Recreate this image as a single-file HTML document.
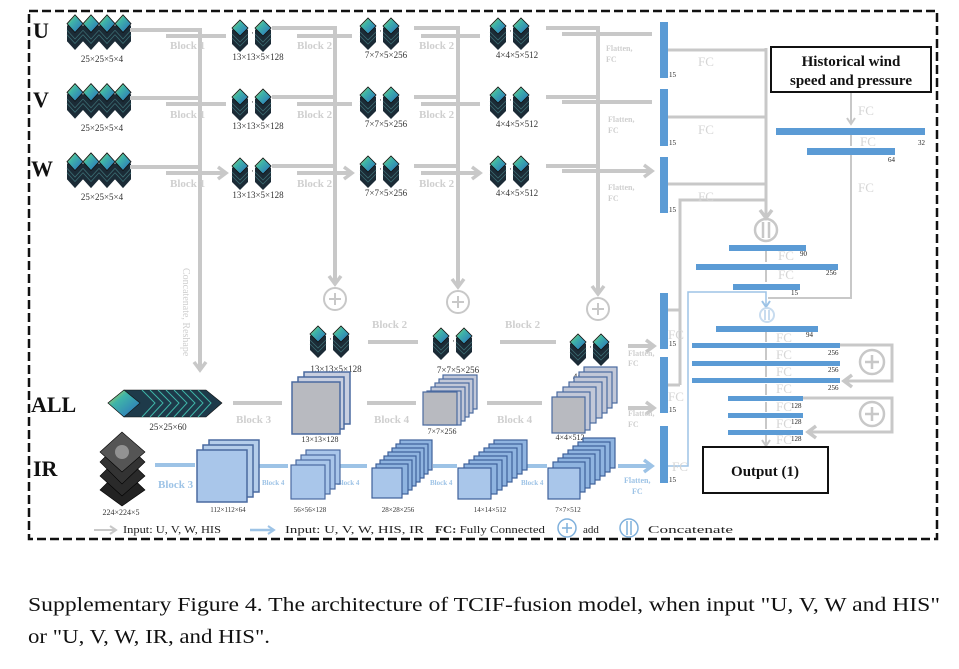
<!DOCTYPE html>
<html><head><meta charset="utf-8"><style>
html,body{margin:0;padding:0;background:#fff;}
svg{display:block;font-family:"Liberation Serif",serif;}
</style></head><body>
<svg width="959" height="669" viewBox="0 0 959 669" xmlns="http://www.w3.org/2000/svg">
<defs>
<marker id="ag" markerWidth="14" markerHeight="16" refX="10" refY="8" orient="auto" markerUnits="userSpaceOnUse"><path d="M2,2 L10,8 L2,14" fill="none" stroke="#c8c8c8" stroke-width="3.5"/></marker>
<marker id="ags" markerWidth="12" markerHeight="12" refX="8" refY="6" orient="auto" markerUnits="userSpaceOnUse"><path d="M2,2 L8,6 L2,10" fill="none" stroke="#c8c8c8" stroke-width="2"/></marker>
<marker id="ab" markerWidth="14" markerHeight="16" refX="10" refY="8" orient="auto" markerUnits="userSpaceOnUse"><path d="M2,2 L10,8 L2,14" fill="none" stroke="#9dc3e6" stroke-width="3.5"/></marker>
<marker id="abt" markerWidth="12" markerHeight="12" refX="8" refY="6" orient="auto" markerUnits="userSpaceOnUse"><path d="M2,2 L8,6 L2,10" fill="none" stroke="#9dc3e6" stroke-width="2"/></marker>
<marker id="agt" markerWidth="18" markerHeight="18" refX="9" refY="12" orient="auto-start-reverse" markerUnits="userSpaceOnUse" viewBox="0 0 18 18"><path d="M2,4 L9,12 L16,4" fill="none" stroke="#c8c8c8" stroke-width="3.5" transform="rotate(-90 9 12)"/></marker>
<linearGradient id="tg" x1="0" y1="0" x2="1" y2="1"><stop offset="0" stop-color="#e8d23a"/><stop offset="0.35" stop-color="#3fb5a8"/><stop offset="1" stop-color="#2a6cc0"/></linearGradient>
<g id="cube">
<polygon points="0,10 8,2 16,10 16,24 8,32 0,24" fill="#1b2b36"/>
<polyline points="0,14 8,22 16,14" fill="none" stroke="#3a6a70" stroke-width="0.8"/>
<polyline points="0,18 8,26 16,18" fill="none" stroke="#3a6a70" stroke-width="0.8"/>
<polygon points="0,8 8,0 16,8 8,16" fill="url(#tg)" stroke="#111" stroke-width="0.8"/>
</g>
<g id="pair"><use href="#cube"/><text x="19" y="16" font-size="9" fill="#333">···</text><use href="#cube" x="23"/></g>
<g id="inp"><use href="#cube"/><use href="#cube" x="16"/><use href="#cube" x="32"/><use href="#cube" x="48"/></g>
</defs>

<rect x="29" y="11" width="908" height="528" fill="none" stroke="#111" stroke-width="2.5" stroke-dasharray="9,4"/>

<g font-weight="bold" font-size="22" fill="#111">
<text x="33" y="38">U</text><text x="33" y="107">V</text><text x="31" y="176">W</text>
<text x="31" y="412">ALL</text><text x="33" y="476">IR</text>
</g>

<use href="#inp" x="67" y="15" transform="scale(1,1.1) translate(0,-1.5)"/>
<use href="#inp" x="67" y="84" transform="scale(1,1.1) translate(0,-8)"/>
<use href="#inp" x="67" y="153" transform="scale(1,1.1) translate(0,-14)"/>
<g font-size="9" fill="#333" text-anchor="middle">
<text x="102" y="62">25×25×5×4</text><text x="102" y="131">25×25×5×4</text><text x="102" y="200">25×25×5×4</text>
</g>

<g stroke="#c8c8c8" stroke-width="4" fill="none">
<path d="M130,30 H200 M130,98 H200 M130,167 H200"/>
<path d="M200,28 V370" marker-end="url(#ag)"/>
<path d="M166,36 H226 M166,104 H226 M166,173 H226" marker-end="url(#ag)"/>
<path d="M272,28 H335 M272,97 H335 M272,166 H335"/>
<path d="M335,26 V284" marker-end="url(#ag)"/>
<path d="M297,36 H352 M297,104 H352 M297,173 H352" marker-end="url(#ag)"/>
<path d="M414,28 H458 M414,97 H458 M414,166 H458"/>
<path d="M458,26 V287" marker-end="url(#ag)"/>
<path d="M421,36 H480 M421,104 H480 M421,173 H480" marker-end="url(#ag)"/>
<path d="M546,28 H598 M546,97 H598 M546,166 H598"/>
<path d="M598,26 V294" marker-end="url(#ag)"/>
<path d="M562,34 H652 M562,102 H652 M562,171 H652" marker-end="url(#ag)"/>
</g>
<g font-size="11" fill="#cfcfcf" font-weight="bold">
<text x="170" y="49">Block 1</text><text x="170" y="118">Block 1</text><text x="170" y="187">Block 1</text>
<text x="297" y="49">Block 2</text><text x="297" y="118">Block 2</text><text x="297" y="187">Block 2</text>
<text x="419" y="49">Block 2</text><text x="419" y="118">Block 2</text><text x="419" y="187">Block 2</text>
</g>
<g font-size="8" fill="#cfcfcf" font-weight="bold">
<text x="606" y="51">Flatten,</text><text x="606" y="62">FC</text>
<text x="608" y="122">Flatten,</text><text x="608" y="133">FC</text>
<text x="608" y="190">Flatten,</text><text x="608" y="201">FC</text>
</g>
<text transform="translate(183,268) rotate(90)" font-size="10" fill="#cfcfcf">Concatenate, Reshape</text>

<use href="#pair" x="232" y="20"/><use href="#pair" x="232" y="89"/><use href="#pair" x="232" y="158"/>
<use href="#pair" x="360" y="18"/><use href="#pair" x="360" y="87"/><use href="#pair" x="360" y="156"/>
<use href="#pair" x="490" y="18"/><use href="#pair" x="490" y="87"/><use href="#pair" x="490" y="156"/>
<g font-size="9" fill="#333" text-anchor="middle">
<text x="258" y="60">13×13×5×128</text><text x="258" y="129">13×13×5×128</text><text x="258" y="198">13×13×5×128</text>
<text x="386" y="58">7×7×5×256</text><text x="386" y="127">7×7×5×256</text><text x="386" y="196">7×7×5×256</text>
<text x="517" y="58">4×4×5×512</text><text x="517" y="127">4×4×5×512</text><text x="517" y="196">4×4×5×512</text>
</g>

<g stroke="#c8c8c8" stroke-width="2" fill="none">
<circle cx="335" cy="299" r="11"/><path d="M329,299 H341 M335,293 V305"/>
<circle cx="458" cy="302" r="11"/><path d="M452,302 H464 M458,296 V308"/>
<circle cx="598" cy="309" r="11"/><path d="M592,309 H604 M598,303 V315"/>
</g>
<use href="#pair" x="310" y="326"/><use href="#pair" x="433" y="328"/><use href="#pair" x="570" y="334"/>
<g font-size="9" fill="#333" text-anchor="middle">
<text x="336" y="372">13×13×5×128</text><text x="458" y="373">7×7×5×256</text><text x="594" y="380">4×4×5×512</text>
</g>
<g stroke="#c8c8c8" stroke-width="4" fill="none">
<path d="M368,342 H418 M500,342 H556 M628,346 H654" marker-end="url(#ag)"/>
<path d="M233,403 H282 M367,403 H416 M487,403 H542 M628,408 H654" marker-end="url(#ag)"/>
</g>
<g font-size="11" fill="#cfcfcf" font-weight="bold">
<text x="372" y="328">Block 2</text><text x="505" y="328">Block 2</text>
<text x="236" y="423">Block 3</text><text x="374" y="423">Block 4</text><text x="497" y="423">Block 4</text>
</g>
<g font-size="8" fill="#cfcfcf" font-weight="bold">
<text x="628" y="356">Flatten,</text><text x="628" y="366">FC</text>
<text x="628" y="416">Flatten,</text><text x="628" y="427">FC</text>
</g>

<g stroke="#111" stroke-width="0.6">
<polygon points="108,403 124,390 206,390 222,403 206,417 124,417" fill="#1e3a4a"/>
<polygon points="108,403 124,390 140,403 124,417" fill="url(#tg)"/>
</g>
<g fill="none" stroke="#3fb5a8" stroke-width="1">
<path d="M142,390 l13,13 l-13,14 M150,390 l13,13 l-13,14 M158,390 l13,13 l-13,14 M166,390 l13,13 l-13,14 M174,390 l13,13 l-13,14 M182,390 l13,13 l-13,14 M190,390 l13,13 l-13,14 M198,390 l13,13 l-13,14"/>
</g>
<text x="168" y="430" font-size="9" fill="#333" text-anchor="middle">25×25×60</text>

<g stroke="#4a6aa0" stroke-width="1.5">
<rect x="304" y="372" width="46" height="52" fill="#c8cfe0"/>
<rect x="298" y="377" width="46" height="52" fill="#c8cfe0"/>
<rect x="292" y="382" width="48" height="52" fill="#b8bac0"/>
</g>
<text x="320" y="442" font-size="8" fill="#333" text-anchor="middle">13×13×128</text>
<g stroke="#4a6aa0" stroke-width="1.2" fill="#c2c8d8">
<rect x="443" y="375" width="34" height="34"/><rect x="439" y="379" width="34" height="34"/><rect x="435" y="383" width="34" height="34"/><rect x="431" y="387" width="34" height="34"/><rect x="427" y="391" width="34" height="34"/><rect x="423" y="392" width="34" height="33" fill="#b8bac0"/>
</g>
<text x="442" y="434" font-size="8" fill="#333" text-anchor="middle">7×7×256</text>
<g stroke="#4a6aa0" stroke-width="1.2" fill="#c2c8d8">
<rect x="584" y="367" width="33" height="36"/><rect x="579" y="372" width="33" height="36"/><rect x="574" y="377" width="33" height="36"/><rect x="569" y="382" width="33" height="36"/><rect x="563" y="387" width="33" height="36"/><rect x="557" y="392" width="33" height="38"/><rect x="552" y="397" width="33" height="36" fill="#b8bac0"/>
</g>
<text x="570" y="440" font-size="8" fill="#333" text-anchor="middle">4×4×512</text>

<g stroke="#000" stroke-width="0.6">
<polygon points="100,490 122,468 145,490 122,506" fill="#222"/>
<polygon points="100,476 122,454 145,476 122,496" fill="#2a2a2a"/>
<polygon points="100,462 122,440 145,462 122,484" fill="#333"/>
<polygon points="100,452 122,432 145,452 122,472" fill="#555"/>
</g>
<circle cx="122" cy="452" r="7" fill="#bbb" opacity="0.6"/>
<text x="121" y="515" font-size="8" fill="#333" text-anchor="middle">224×224×5</text>
<g stroke="#9dc3e6" stroke-width="4" fill="none">
<path d="M155,465 H195 M258,466 H288 M335,466 H367 M433,466 H457 M525,466 H547 M618,466 H652" marker-end="url(#ab)"/>
</g>
<g font-weight="bold" fill="#9dc3e6">
<text x="158" y="488" font-size="11">Block 3</text>
<text x="262" y="485" font-size="7">Block 4</text><text x="337" y="485" font-size="7">Block 4</text>
<text x="430" y="485" font-size="7">Block 4</text><text x="521" y="485" font-size="7">Block 4</text>
<text x="624" y="483" font-size="8">Flatten,</text><text x="632" y="494" font-size="8">FC</text>
</g>
<g stroke="#4a6aa0" stroke-width="1.5" fill="#b5cdea">
<rect x="209" y="440" width="50" height="52"/><rect x="203" y="445" width="50" height="52"/><rect x="197" y="450" width="50" height="52" fill="#a9c6ea"/>
</g>
<text x="228" y="512" font-size="7" fill="#333" text-anchor="middle">112×112×64</text>
<g stroke="#4a6aa0" stroke-width="1.2" fill="#a9c6ea">
<rect x="306" y="450" width="34" height="34"/><rect x="301" y="455" width="34" height="34"/><rect x="296" y="460" width="34" height="34"/><rect x="291" y="465" width="34" height="34"/>
</g>
<text x="310" y="512" font-size="7" fill="#333" text-anchor="middle">56×56×128</text>
<g stroke="#3e609a" stroke-width="1.2" fill="#8fb4e0">
<rect x="400" y="440" width="32" height="30"/><rect x="396" y="444" width="32" height="30"/><rect x="392" y="448" width="32" height="30"/><rect x="388" y="452" width="32" height="30"/><rect x="384" y="456" width="32" height="30"/><rect x="380" y="460" width="32" height="30"/><rect x="376" y="464" width="32" height="30"/><rect x="372" y="468" width="30" height="30" fill="#a9c6ea"/>
</g>
<text x="398" y="512" font-size="7" fill="#333" text-anchor="middle">28×28×256</text>
<g stroke="#3e609a" stroke-width="1.2" fill="#8fb4e0">
<rect x="494" y="440" width="33" height="30"/><rect x="489" y="444" width="33" height="30"/><rect x="484" y="448" width="33" height="30"/><rect x="479" y="452" width="33" height="30"/><rect x="474" y="456" width="33" height="30"/><rect x="469" y="460" width="33" height="30"/><rect x="464" y="464" width="33" height="30"/><rect x="458" y="468" width="33" height="31" fill="#a9c6ea"/>
</g>
<text x="490" y="512" font-size="7" fill="#333" text-anchor="middle">14×14×512</text>
<g stroke="#3e609a" stroke-width="1.2" fill="#8fb4e0">
<rect x="583" y="438" width="32" height="30"/><rect x="578" y="442" width="32" height="30"/><rect x="573" y="446" width="32" height="30"/><rect x="568" y="450" width="32" height="30"/><rect x="563" y="454" width="32" height="30"/><rect x="558" y="458" width="32" height="30"/><rect x="553" y="462" width="32" height="30"/><rect x="548" y="468" width="32" height="31" fill="#a9c6ea"/>
</g>
<text x="568" y="512" font-size="7" fill="#333" text-anchor="middle">7×7×512</text>

<g stroke="#c8c8c8" stroke-width="3" fill="none">
<path d="M667,50 H766 M667,117 H766 M667,184 H766"/>
<path d="M766,48 V218" marker-end="url(#ag)"/>
<path d="M667,310 H680 M667,385 H680 M680,385 V200 H766"/>
<path d="M851,92 V124" stroke-width="2" marker-end="url(#ags)"/>
<path d="M851,135 V146" stroke-width="2"/>
<path d="M851,155 V298 H768" stroke-width="2"/>
<path d="M766,251 V262 M766,270 V282 M766,332 V342 M766,348 V360 M766,366 V377 M766,384 V395 M766,402 V412 M766,418 V429 M766,435 V446" stroke-width="2" marker-end="url(#ags)"/>
<path d="M840,345 H892 V381 H844" stroke-width="3" marker-end="url(#ag)"/>
<path d="M803,398 H892 V432 H808" stroke-width="3" marker-end="url(#ag)"/>
</g>
<path d="M667,466 H688 V292 H766 V307" stroke="#9dc3e6" stroke-width="1.5" fill="none" marker-end="url(#abt)"/>
<g stroke="#c8c8c8" stroke-width="2.5" fill="none">
<circle cx="766" cy="230" r="11"/><path d="M763,222 V238 M769,222 V238"/>
<circle cx="872" cy="362" r="12"/><path d="M865,362 H879 M872,355 V369"/>
<circle cx="872" cy="414" r="12"/><path d="M865,414 H879 M872,407 V421"/>
</g>
<g stroke="#c8dcef" stroke-width="2" fill="none"><circle cx="767" cy="315" r="7"/><path d="M765,310 V320 M769,310 V320"/></g>

<g fill="#5b9bd5">
<rect x="660" y="22" width="8" height="56"/><rect x="660" y="89" width="8" height="57"/><rect x="660" y="157" width="8" height="56"/>
<rect x="660" y="293" width="8" height="56"/><rect x="660" y="357" width="8" height="56"/><rect x="660" y="426" width="8" height="57"/>
<rect x="776" y="128" width="149" height="7"/><rect x="807" y="148" width="88" height="7"/>
<rect x="729" y="245" width="77" height="6"/><rect x="696" y="264" width="142" height="6"/><rect x="733" y="284" width="67" height="6"/>
<rect x="716" y="326" width="102" height="6"/>
<rect x="692" y="343" width="148" height="5"/><rect x="692" y="361" width="148" height="5"/><rect x="692" y="378" width="148" height="5"/>
<rect x="728" y="396" width="75" height="5"/><rect x="728" y="413" width="75" height="5"/><rect x="728" y="430" width="75" height="5"/>
</g>
<g font-size="7" fill="#222">
<text x="669" y="77">15</text><text x="669" y="145">15</text><text x="669" y="212">15</text>
<text x="669" y="346">15</text><text x="669" y="412">15</text><text x="669" y="482">15</text>
<text x="918" y="145">32</text><text x="888" y="162">64</text>
<text x="800" y="256">90</text><text x="826" y="275">256</text><text x="791" y="295">15</text>
<text x="806" y="337">94</text>
<text x="828" y="355">256</text><text x="828" y="372">256</text><text x="828" y="390">256</text>
<text x="791" y="408">128</text><text x="791" y="424">128</text><text x="791" y="441">128</text>
</g>
<g font-size="13" fill="#d5d5d5">
<text x="698" y="66">FC</text><text x="698" y="134">FC</text><text x="698" y="201">FC</text>
<text x="858" y="115">FC</text><text x="860" y="146">FC</text><text x="858" y="192">FC</text>
<text x="778" y="260">FC</text><text x="778" y="279">FC</text>
<text x="776" y="342">FC</text><text x="776" y="359">FC</text><text x="776" y="376">FC</text><text x="776" y="393">FC</text>
<text x="776" y="411">FC</text><text x="776" y="428">FC</text><text x="776" y="444">FC</text>
<text x="668" y="339">FC</text><text x="668" y="401">FC</text><text x="672" y="471">FC</text>
</g>

<rect x="771" y="47" width="160" height="45" fill="#fff" stroke="#111" stroke-width="2"/>
<text x="851" y="66" font-size="15" font-weight="bold" text-anchor="middle" fill="#111">Historical wind</text>
<text x="851" y="85" font-size="15" font-weight="bold" text-anchor="middle" fill="#111">speed and pressure</text>
<rect x="703" y="447" width="125" height="46" fill="#fff" stroke="#111" stroke-width="2"/>
<text x="765" y="476" font-size="15" font-weight="bold" text-anchor="middle" fill="#111">Output (1)</text>

<path d="M94,530 H116" stroke="#c8c8c8" stroke-width="2" marker-end="url(#ags)"/>
<text x="123" y="533" font-size="11" fill="#222" textLength="98" lengthAdjust="spacingAndGlyphs">Input: U, V, W, HIS</text>
<path d="M250,530 H274" stroke="#9dc3e6" stroke-width="2.5" marker-end="url(#abt)"/>
<text x="285" y="533" font-size="11" fill="#222" textLength="139" lengthAdjust="spacingAndGlyphs">Input: U, V, W, HIS, IR</text>
<text x="435" y="533" font-size="11" fill="#222" textLength="110" lengthAdjust="spacingAndGlyphs"><tspan font-weight="bold">FC:</tspan> Fully Connected</text>
<g stroke="#7fb0dc" stroke-width="1.5" fill="none"><circle cx="567" cy="528" r="9"/><path d="M562,528 H572 M567,523 V533"/><circle cx="629" cy="528" r="9"/><path d="M627,521 V535 M631,521 V535"/></g>
<text x="583" y="533" font-size="11" fill="#222">add</text>
<text x="648" y="533" font-size="11" fill="#222" textLength="85" lengthAdjust="spacingAndGlyphs">Concatenate</text>

<text x="28" y="611" font-size="20" fill="#111" textLength="912" lengthAdjust="spacingAndGlyphs">Supplementary Figure 4. The architecture of TCIF-fusion model, when input "U, V, W and HIS"</text>
<text x="28" y="643" font-size="20" fill="#111" textLength="242" lengthAdjust="spacingAndGlyphs">or "U, V, W, IR, and HIS".</text>
</svg>
</body></html>
